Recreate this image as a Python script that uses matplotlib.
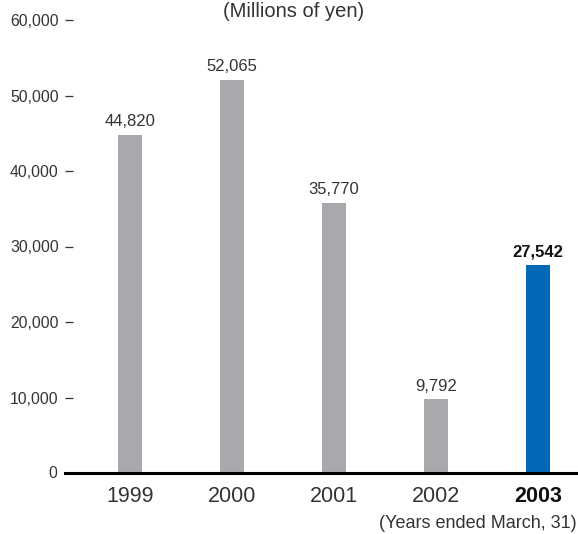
import matplotlib
matplotlib.use("Agg")
import matplotlib.pyplot as plt

plt.rcParams['font.family'] = ['Liberation Sans', 'DejaVu Sans']

years = ["1999", "2000", "2001", "2002", "2003"]
net_income = [44820, 52065, 35770, 9792, 27542]
value_labels = ["44,820", "52,065", "35,770", "9,792", "27,542"]
y_ticks = [10000, 20000, 30000, 40000, 50000, 60000]
y_tick_labels = ["10,000", "20,000", "30,000", "40,000", "50,000", "60,000"]

GRAY = "#A7A9AC"
BLUE = "#0068B6"
TEXT = "#333333"

W, H = 578, 534
fig = plt.figure(figsize=(W / 100, H / 100), dpi=100)
left, right = 65 / W, 1.0
bottom, top = (H - 473) / H, (H - 20) / H
ax = fig.add_axes([left, bottom, right - left, top - bottom])

x = list(range(len(years)))
colors = [GRAY] * (len(years) - 1) + [BLUE]
ax.bar(x, net_income, width=0.235, color=colors, zorder=2)

for i, (v, lab) in enumerate(zip(net_income, value_labels)):
    last = i == len(years) - 1
    ax.annotate(lab, (i, v), xytext=(0, 4), textcoords="offset points",
                ha="center", va="bottom", fontsize=12,
                color="#111111" if last else TEXT,
                fontweight="bold" if last else "normal")

ax.set_xlim(-0.637, 4.392)
ax.set_ylim(0, 60000)

for s in ("left", "right", "top"):
    ax.spines[s].set_visible(False)
ax.spines["bottom"].set_linewidth(2.2)
ax.spines["bottom"].set_color("black")
ax.spines["bottom"].set_zorder(3)

ax.set_yticks(y_ticks)
ax.set_yticklabels(y_tick_labels)
ax.tick_params(axis="y", direction="in", length=5.8, width=0.9, color=TEXT,
               pad=4.6, labelsize=11.3, labelcolor=TEXT)
# zero label sits at the baseline without a tick mark
ax.text(-8 / 513, 0, "0", transform=ax.get_yaxis_transform(), ha="right",
        va="center", fontsize=11.3, color=TEXT)

ax.set_xticks(x)
ax.set_xticklabels(years)
ax.tick_params(axis="x", length=0, pad=9, labelsize=15.5, labelcolor=TEXT)
xl = ax.get_xticklabels()
xl[-1].set_fontweight("bold")
xl[-1].set_color("#111111")

fig.text(294 / W, 1 - 2 / H, "(Millions of yen)", ha="center", va="top",
         fontsize=14.5, color=TEXT)
fig.text(577 / W, 1 - 524 / H, "(Years ended March, 31)", ha="right",
         va="center", fontsize=13, color=TEXT)

fig.savefig("out.png", dpi=100)
